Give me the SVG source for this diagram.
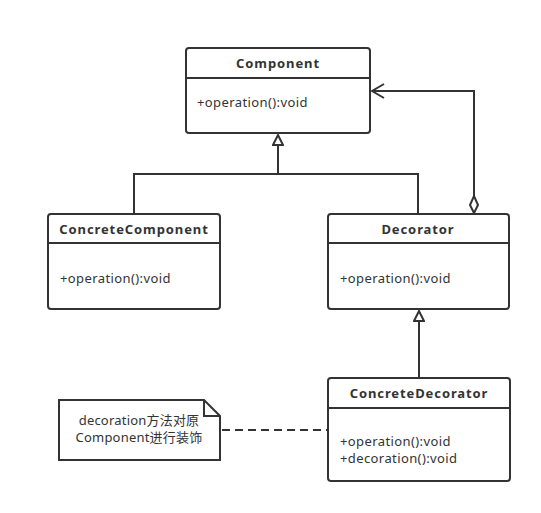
<svg xmlns="http://www.w3.org/2000/svg" width="541" height="513" viewBox="0 0 541 513">
<style>
.box{fill:#fff;stroke:#333;stroke-width:2}
.ln{fill:none;stroke:#333;stroke-width:2}
.t{font-family:"Noto Sans","Noto Sans CJK SC",sans-serif;font-size:13px;fill:#333;letter-spacing:0.4px}
.b{font-weight:bold;text-anchor:middle;letter-spacing:0.9px}
.c{text-anchor:middle;letter-spacing:0.2px}
</style>
<defs>
<marker id="tri" viewBox="0 0 12 12" refX="11" refY="6" markerWidth="12" markerHeight="12" markerUnits="userSpaceOnUse" orient="auto">
<path d="M1,1 L11,6 L1,11 Z" fill="#fff" stroke="#333" stroke-width="2"/>
</marker>
<marker id="open" viewBox="0 0 14 16" refX="13" refY="8" markerWidth="14" markerHeight="16" markerUnits="userSpaceOnUse" orient="auto">
<path d="M1,1 L13,8 L1,15" fill="none" stroke="#333" stroke-width="2"/>
</marker>
<marker id="dia" viewBox="0 0 20 10" refX="1" refY="5" markerWidth="20" markerHeight="10" markerUnits="userSpaceOnUse" orient="auto">
<path d="M1,5 L9,1 L18,5 L9,9 Z" fill="#fff" stroke="#333" stroke-width="2"/>
</marker>
</defs>
<g id="connectors">
<path class="ln" d="M134,214 V174 H418 V214"/>
<path class="ln" d="M278,174 V135" marker-end="url(#tri)"/>
<path class="ln" d="M474,213 V91 H372" marker-start="url(#dia)" marker-end="url(#open)"/>
<path class="ln" d="M419,378 V311" marker-end="url(#tri)"/>
<path class="ln" d="M222,430 H328" stroke-dasharray="8,5"/>
</g>
<g id="Component">
<rect class="box" x="186" y="48" width="184" height="85" rx="3"/>
<line class="ln" x1="186" y1="78" x2="370" y2="78"/>
<text class="t b" x="278" y="68">Component</text>
<text class="t" x="197" y="107">+operation():void</text>
</g>
<g id="ConcreteComponent">
<rect class="box" x="48" y="214" width="172" height="95" rx="3"/>
<line class="ln" x1="48" y1="243" x2="220" y2="243"/>
<text class="t b" x="134" y="234">ConcreteComponent</text>
<text class="t" x="60" y="283">+operation():void</text>
</g>
<g id="Decorator">
<rect class="box" x="328" y="214" width="181" height="95" rx="3"/>
<line class="ln" x1="328" y1="243" x2="509" y2="243"/>
<text class="t b" x="418" y="234">Decorator</text>
<text class="t" x="340" y="283">+operation():void</text>
</g>
<g id="ConcreteDecorator">
<rect class="box" x="328" y="378" width="182" height="103" rx="3"/>
<line class="ln" x1="328" y1="408" x2="510" y2="408"/>
<text class="t b" x="419" y="398">ConcreteDecorator</text>
<text class="t" x="340" y="446">+operation():void</text>
<text class="t" x="340" y="463">+decoration():void</text>
</g>
<g id="note">
<path class="box" d="M59,400 H204 L220,416 V460 H59 Z"/>
<path class="ln" d="M204,400 V416 H220"/>
<text class="t c" x="139" y="425">decoration方法对原</text>
<text class="t c" x="139" y="442">Component进行装饰</text>
</g>
</svg>
